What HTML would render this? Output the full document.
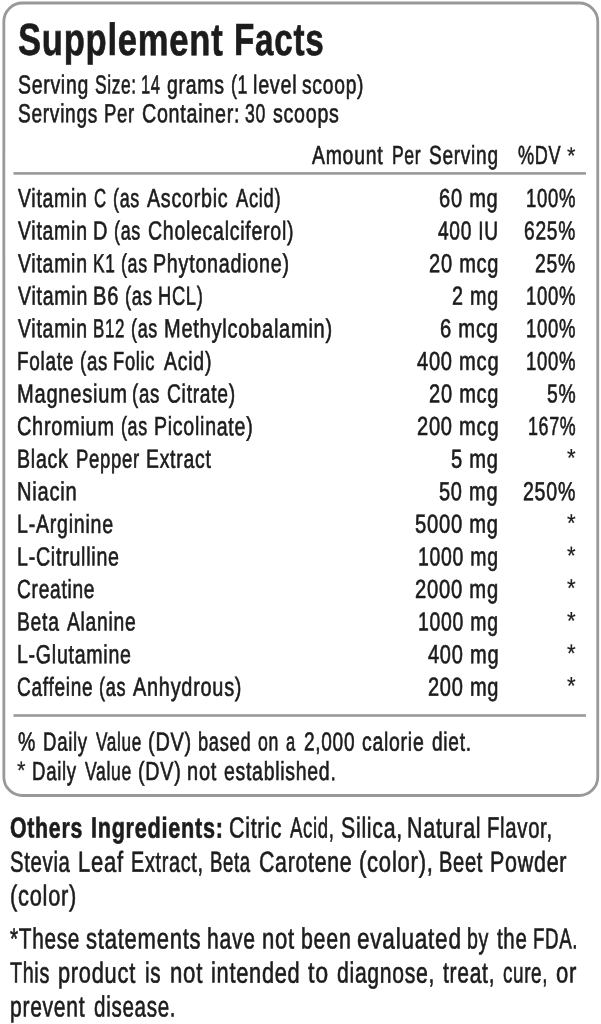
<!DOCTYPE html>
<html lang="en">
<head>
<meta charset="utf-8">
<title>Supplement Facts</title>
<style>
html,body{margin:0;padding:0;background:#fff;}
body{width:601px;height:1024px;position:relative;overflow:hidden;font-family:"Liberation Sans",sans-serif;color:#222;}
.panel{position:absolute;left:0;top:0;width:601px;height:1024px;}
.t,.b{position:absolute;white-space:pre;line-height:1;transform-origin:0 0;letter-spacing:1px;color:#1c1c1c;-webkit-text-stroke:0.65px #1c1c1c;}
.t{font-weight:400;}
.b{font-weight:700;}
h1,p,section,div{margin:0;padding:0;}
.ns{-webkit-text-stroke-width:0.2px;}
svg{position:absolute;left:0;top:0;}
</style>
</head>
<body>
<svg width="601" height="1024" viewBox="0 0 601 1024">
<rect x="3.85" y="3" width="593.9" height="792.5" rx="18.5" ry="18.5" fill="none" stroke="#999" stroke-width="2.8"/>
<rect x="13.5" y="172.1" width="572.5" height="2.6" fill="#999"/>
<rect x="13.5" y="714.2" width="572.5" height="2.6" fill="#999"/>
</svg>
<div class="panel">
<section class="facts">
<h1 class="title">
<span class="b" style="left:18.23px;top:17px;font-size:45.1px;transform:translateY(0.00px) scaleX(0.7669) rotate(0.05deg)">Supplement</span>
<span class="b" style="left:233.78px;top:17px;font-size:45.1px;transform:translateY(0.00px) scaleX(0.7362) rotate(0.05deg)">Facts</span>
</h1>
<p class="serving">
<span class="t" style="left:17.74px;top:71px;font-size:26.2px;transform:translateY(0.50px) scaleX(0.7409) rotate(0.05deg)">Serving</span>
<span class="t" style="left:95.01px;top:71px;font-size:26.2px;transform:translateY(0.50px) scaleX(0.6621) rotate(0.05deg)">Size:</span>
<span class="t" style="left:141.36px;top:71px;font-size:26.2px;transform:translateY(0.50px) scaleX(0.6313) rotate(0.05deg)">14</span>
<span class="t" style="left:166.79px;top:71px;font-size:26.2px;transform:translateY(0.50px) scaleX(0.7437) rotate(0.05deg)">grams</span>
<span class="t" style="left:230.74px;top:71px;font-size:26.2px;transform:translateY(0.50px) scaleX(0.6800) rotate(0.05deg)">(1</span>
<span class="t" style="left:252.87px;top:71px;font-size:26.2px;transform:translateY(0.50px) scaleX(0.7544) rotate(0.05deg)">level</span>
<span class="t" style="left:302.47px;top:71px;font-size:26.2px;transform:translateY(0.50px) scaleX(0.7359) rotate(0.05deg)">scoop)</span>
</p>
<p class="serving">
<span class="t" style="left:17.75px;top:100px;font-size:26.2px;transform:translateY(0.30px) scaleX(0.7288) rotate(0.05deg)">Servings</span>
<span class="t" style="left:104.33px;top:100px;font-size:26.2px;transform:translateY(0.30px) scaleX(0.7056) rotate(0.05deg)">Per</span>
<span class="t" style="left:142.09px;top:100px;font-size:26.2px;transform:translateY(0.30px) scaleX(0.7509) rotate(0.05deg)">Container:</span>
<span class="t" style="left:245.40px;top:100px;font-size:26.2px;transform:translateY(0.30px) scaleX(0.6726) rotate(0.05deg)">30</span>
<span class="t" style="left:272.89px;top:100px;font-size:26.2px;transform:translateY(0.30px) scaleX(0.7485) rotate(0.05deg)">scoops</span>
</p>
<div class="thead"><span class="amt">
<span class="t" style="left:312.39px;top:142px;font-size:26.2px;transform:translateY(0.00px) scaleX(0.7415) rotate(0.05deg)">Amount</span>
<span class="t" style="left:391.61px;top:142px;font-size:26.2px;transform:translateY(0.00px) scaleX(0.6699) rotate(0.05deg)">Per</span>
<span class="t" style="left:428.55px;top:142px;font-size:26.2px;transform:translateY(0.00px) scaleX(0.7278) rotate(0.05deg)">Serving</span>
</span><span class="dv">
<span class="t" style="left:518.45px;top:142px;font-size:26.2px;transform:translateY(0.00px) scaleX(0.6911) rotate(0.05deg)">%DV</span>
<span class="t ns" style="left:567.07px;top:143px;font-size:24px;transform:translateY(0.80px) scaleX(0.9029) rotate(0.05deg)">*</span>
</span></div>
<div class="tbody">
<div class="tr"><span class="name">
<span class="t" style="left:17.89px;top:185px;font-size:26.2px;transform:translateY(0.00px) scaleX(0.7423) rotate(0.05deg)">Vitamin</span>
<span class="t" style="left:93.80px;top:185px;font-size:26.2px;transform:translateY(0.00px) scaleX(0.6373) rotate(0.05deg)">C</span>
<span class="t" style="left:112.96px;top:185px;font-size:26.2px;transform:translateY(0.00px) scaleX(0.6840) rotate(0.05deg)">(as</span>
<span class="t" style="left:147.04px;top:185px;font-size:26.2px;transform:translateY(0.00px) scaleX(0.7505) rotate(0.05deg)">Ascorbic</span>
<span class="t" style="left:236.03px;top:185px;font-size:26.2px;transform:translateY(0.00px) scaleX(0.6999) rotate(0.05deg)">Acid)</span>
</span><span class="amt">
<span class="t" style="left:439.23px;top:185px;font-size:26.2px;transform:translateY(0.00px) scaleX(0.7651) rotate(0.05deg)">60 mg</span>
</span><span class="dv">
<span class="t" style="left:526.06px;top:185px;font-size:26.2px;transform:translateY(0.00px) scaleX(0.7067) rotate(0.05deg)">100%</span>
</span></div>
<div class="tr"><span class="name">
<span class="t" style="left:17.89px;top:217px;font-size:26.2px;transform:translateY(0.58px) scaleX(0.7428) rotate(0.05deg)">Vitamin</span>
<span class="t" style="left:93.12px;top:217px;font-size:26.2px;transform:translateY(0.58px) scaleX(0.7625) rotate(0.05deg)">D</span>
<span class="t" style="left:114.07px;top:217px;font-size:26.2px;transform:translateY(0.58px) scaleX(0.6844) rotate(0.05deg)">(as</span>
<span class="t" style="left:147.56px;top:217px;font-size:26.2px;transform:translateY(0.58px) scaleX(0.7441) rotate(0.05deg)">Cholecalciferol)</span>
</span><span class="amt">
<span class="t" style="left:438.12px;top:217px;font-size:26.2px;transform:translateY(0.58px) scaleX(0.7315) rotate(0.05deg)">400 IU</span>
</span><span class="dv">
<span class="t" style="left:524.27px;top:217px;font-size:26.2px;transform:translateY(0.58px) scaleX(0.7326) rotate(0.05deg)">625%</span>
</span></div>
<div class="tr"><span class="name">
<span class="t" style="left:17.89px;top:250px;font-size:26.2px;transform:translateY(0.16px) scaleX(0.7430) rotate(0.05deg)">Vitamin</span>
<span class="t" style="left:93.01px;top:250px;font-size:26.2px;transform:translateY(0.16px) scaleX(0.6608) rotate(0.05deg)">K1</span>
<span class="t" style="left:120.72px;top:250px;font-size:26.2px;transform:translateY(0.16px) scaleX(0.6819) rotate(0.05deg)">(as</span>
<span class="t" style="left:153.05px;top:250px;font-size:26.2px;transform:translateY(0.16px) scaleX(0.7518) rotate(0.05deg)">Phytonadione)</span>
</span><span class="amt">
<span class="t" style="left:428.54px;top:250px;font-size:26.2px;transform:translateY(0.16px) scaleX(0.7650) rotate(0.05deg)">20 mcg</span>
</span><span class="dv">
<span class="t" style="left:535.26px;top:250px;font-size:26.2px;transform:translateY(0.16px) scaleX(0.7393) rotate(0.05deg)">25%</span>
</span></div>
<div class="tr"><span class="name">
<span class="t" style="left:17.89px;top:282px;font-size:26.2px;transform:translateY(0.74px) scaleX(0.7461) rotate(0.05deg)">Vitamin</span>
<span class="t" style="left:93.05px;top:282px;font-size:26.2px;transform:translateY(0.74px) scaleX(0.7668) rotate(0.05deg)">B6</span>
<span class="t" style="left:124.66px;top:282px;font-size:26.2px;transform:translateY(0.74px) scaleX(0.7040) rotate(0.05deg)">(as</span>
<span class="t" style="left:157.82px;top:282px;font-size:26.2px;transform:translateY(0.74px) scaleX(0.6993) rotate(0.05deg)">HCL)</span>
</span><span class="amt">
<span class="t" style="left:451.95px;top:282px;font-size:26.2px;transform:translateY(0.74px) scaleX(0.7540) rotate(0.05deg)">2 mg</span>
</span><span class="dv">
<span class="t" style="left:526.06px;top:282px;font-size:26.2px;transform:translateY(0.74px) scaleX(0.7067) rotate(0.05deg)">100%</span>
</span></div>
<div class="tr"><span class="name">
<span class="t" style="left:17.89px;top:315px;font-size:26.2px;transform:translateY(0.32px) scaleX(0.7429) rotate(0.05deg)">Vitamin</span>
<span class="t" style="left:93.00px;top:315px;font-size:26.2px;transform:translateY(0.32px) scaleX(0.6478) rotate(0.05deg)">B12</span>
<span class="t" style="left:130.66px;top:315px;font-size:26.2px;transform:translateY(0.32px) scaleX(0.6845) rotate(0.05deg)">(as</span>
<span class="t" style="left:163.57px;top:315px;font-size:26.2px;transform:translateY(0.32px) scaleX(0.7636) rotate(0.05deg)">Methylcobalamin)</span>
</span><span class="amt">
<span class="t" style="left:439.93px;top:315px;font-size:26.2px;transform:translateY(0.32px) scaleX(0.7712) rotate(0.05deg)">6 mcg</span>
</span><span class="dv">
<span class="t" style="left:526.06px;top:315px;font-size:26.2px;transform:translateY(0.32px) scaleX(0.7067) rotate(0.05deg)">100%</span>
</span></div>
<div class="tr"><span class="name">
<span class="t" style="left:17.03px;top:347px;font-size:26.2px;transform:translateY(0.90px) scaleX(0.7239) rotate(0.05deg)">Folate</span>
<span class="t" style="left:79.64px;top:347px;font-size:26.2px;transform:translateY(0.90px) scaleX(0.7132) rotate(0.05deg)">(as</span>
<span class="t" style="left:113.34px;top:347px;font-size:26.2px;transform:translateY(0.90px) scaleX(0.7005) rotate(0.05deg)">Folic</span>
<span class="t" style="left:163.65px;top:347px;font-size:26.2px;transform:translateY(0.90px) scaleX(0.7445) rotate(0.05deg)">Acid)</span>
</span><span class="amt">
<span class="t" style="left:416.51px;top:347px;font-size:26.2px;transform:translateY(0.90px) scaleX(0.7666) rotate(0.05deg)">400 mcg</span>
</span><span class="dv">
<span class="t" style="left:526.06px;top:347px;font-size:26.2px;transform:translateY(0.90px) scaleX(0.7067) rotate(0.05deg)">100%</span>
</span></div>
<div class="tr"><span class="name">
<span class="t" style="left:16.96px;top:380px;font-size:26.2px;transform:translateY(0.48px) scaleX(0.7665) rotate(0.05deg)">Magnesium</span>
<span class="t" style="left:132.48px;top:380px;font-size:26.2px;transform:translateY(0.48px) scaleX(0.7123) rotate(0.05deg)">(as</span>
<span class="t" style="left:166.57px;top:380px;font-size:26.2px;transform:translateY(0.48px) scaleX(0.7348) rotate(0.05deg)">Citrate)</span>
</span><span class="amt">
<span class="t" style="left:428.54px;top:380px;font-size:26.2px;transform:translateY(0.48px) scaleX(0.7650) rotate(0.05deg)">20 mcg</span>
</span><span class="dv">
<span class="t" style="left:546.75px;top:380px;font-size:26.2px;transform:translateY(0.48px) scaleX(0.7387) rotate(0.05deg)">5%</span>
</span></div>
<div class="tr"><span class="name">
<span class="t" style="left:17.24px;top:413px;font-size:26.2px;transform:translateY(0.06px) scaleX(0.7593) rotate(0.05deg)">Chromium</span>
<span class="t" style="left:120.95px;top:413px;font-size:26.2px;transform:translateY(0.06px) scaleX(0.6822) rotate(0.05deg)">(as</span>
<span class="t" style="left:154.49px;top:413px;font-size:26.2px;transform:translateY(0.06px) scaleX(0.7458) rotate(0.05deg)">Picolinate)</span>
</span><span class="amt">
<span class="t" style="left:416.53px;top:413px;font-size:26.2px;transform:translateY(0.06px) scaleX(0.7663) rotate(0.05deg)">200 mcg</span>
</span><span class="dv">
<span class="t" style="left:527.81px;top:413px;font-size:26.2px;transform:translateY(0.06px) scaleX(0.6815) rotate(0.05deg)">167%</span>
</span></div>
<div class="tr"><span class="name">
<span class="t" style="left:16.99px;top:445px;font-size:26.2px;transform:translateY(0.64px) scaleX(0.7476) rotate(0.05deg)">Black</span>
<span class="t" style="left:75.81px;top:445px;font-size:26.2px;transform:translateY(0.64px) scaleX(0.7074) rotate(0.05deg)">Pepper</span>
<span class="t" style="left:146.30px;top:445px;font-size:26.2px;transform:translateY(0.64px) scaleX(0.7405) rotate(0.05deg)">Extract</span>
</span><span class="amt">
<span class="t" style="left:451.12px;top:445px;font-size:26.2px;transform:translateY(0.64px) scaleX(0.7678) rotate(0.05deg)">5 mg</span>
</span><span class="dv">
<span class="t ns" style="left:567.18px;top:445px;font-size:25px;transform:translateY(0.24px) scaleX(0.8865) rotate(0.05deg)">*</span>
</span></div>
<div class="tr"><span class="name">
<span class="t" style="left:16.96px;top:478px;font-size:26.2px;transform:translateY(0.22px) scaleX(0.7666) rotate(0.05deg)">Niacin</span>
</span><span class="amt">
<span class="t" style="left:439.43px;top:478px;font-size:26.2px;transform:translateY(0.22px) scaleX(0.7625) rotate(0.05deg)">50 mg</span>
</span><span class="dv">
<span class="t" style="left:523.25px;top:478px;font-size:26.2px;transform:translateY(0.22px) scaleX(0.7473) rotate(0.05deg)">250%</span>
</span></div>
<div class="tr"><span class="name">
<span class="t" style="left:16.99px;top:510px;font-size:26.2px;transform:translateY(0.80px) scaleX(0.7483) rotate(0.05deg)">L-Arginine</span>
</span><span class="amt">
<span class="t" style="left:415.12px;top:510px;font-size:26.2px;transform:translateY(0.80px) scaleX(0.7688) rotate(0.05deg)">5000 mg</span>
</span><span class="dv">
<span class="t ns" style="left:567.18px;top:510px;font-size:25px;transform:translateY(0.40px) scaleX(0.8865) rotate(0.05deg)">*</span>
</span></div>
<div class="tr"><span class="name">
<span class="t" style="left:16.99px;top:543px;font-size:26.2px;transform:translateY(0.38px) scaleX(0.7491) rotate(0.05deg)">L-Citrulline</span>
</span><span class="amt">
<span class="t" style="left:418.00px;top:543px;font-size:26.2px;transform:translateY(0.38px) scaleX(0.7418) rotate(0.05deg)">1000 mg</span>
</span><span class="dv">
<span class="t ns" style="left:567.18px;top:542px;font-size:25px;transform:translateY(0.98px) scaleX(0.8865) rotate(0.05deg)">*</span>
</span></div>
<div class="tr"><span class="name">
<span class="t" style="left:17.27px;top:575px;font-size:26.2px;transform:translateY(0.96px) scaleX(0.7309) rotate(0.05deg)">Creatine</span>
</span><span class="amt">
<span class="t" style="left:414.93px;top:575px;font-size:26.2px;transform:translateY(0.96px) scaleX(0.7706) rotate(0.05deg)">2000 mg</span>
</span><span class="dv">
<span class="t ns" style="left:567.18px;top:575px;font-size:25px;transform:translateY(0.56px) scaleX(0.8865) rotate(0.05deg)">*</span>
</span></div>
<div class="tr"><span class="name">
<span class="t" style="left:17.01px;top:608px;font-size:26.2px;transform:translateY(0.54px) scaleX(0.7369) rotate(0.05deg)">Beta</span>
<span class="t" style="left:66.88px;top:608px;font-size:26.2px;transform:translateY(0.54px) scaleX(0.7353) rotate(0.05deg)">Alanine</span>
</span><span class="amt">
<span class="t" style="left:418.00px;top:608px;font-size:26.2px;transform:translateY(0.54px) scaleX(0.7418) rotate(0.05deg)">1000 mg</span>
</span><span class="dv">
<span class="t ns" style="left:567.18px;top:608px;font-size:25px;transform:translateY(0.14px) scaleX(0.8865) rotate(0.05deg)">*</span>
</span></div>
<div class="tr"><span class="name">
<span class="t" style="left:16.99px;top:641px;font-size:26.2px;transform:translateY(0.12px) scaleX(0.7467) rotate(0.05deg)">L-Glutamine</span>
</span><span class="amt">
<span class="t" style="left:427.51px;top:641px;font-size:26.2px;transform:translateY(0.12px) scaleX(0.7636) rotate(0.05deg)">400 mg</span>
</span><span class="dv">
<span class="t ns" style="left:567.18px;top:640px;font-size:25px;transform:translateY(0.72px) scaleX(0.8865) rotate(0.05deg)">*</span>
</span></div>
<div class="tr"><span class="name">
<span class="t" style="left:17.27px;top:673px;font-size:26.2px;transform:translateY(0.70px) scaleX(0.7257) rotate(0.05deg)">Caffeine</span>
<span class="t" style="left:99.24px;top:673px;font-size:26.2px;transform:translateY(0.70px) scaleX(0.6904) rotate(0.05deg)">(as</span>
<span class="t" style="left:133.39px;top:673px;font-size:26.2px;transform:translateY(0.70px) scaleX(0.7591) rotate(0.05deg)">Anhydrous)</span>
</span><span class="amt">
<span class="t" style="left:427.54px;top:673px;font-size:26.2px;transform:translateY(0.70px) scaleX(0.7633) rotate(0.05deg)">200 mg</span>
</span><span class="dv">
<span class="t ns" style="left:567.18px;top:673px;font-size:25px;transform:translateY(0.30px) scaleX(0.8865) rotate(0.05deg)">*</span>
</span></div>
</div>
<p class="note">
<span class="t" style="left:17.93px;top:728px;font-size:26.2px;transform:translateY(0.60px) scaleX(0.7434) rotate(0.05deg)">%</span>
<span class="t" style="left:42.60px;top:728px;font-size:26.2px;transform:translateY(0.60px) scaleX(0.7102) rotate(0.05deg)">Daily</span>
<span class="t" style="left:95.59px;top:728px;font-size:26.2px;transform:translateY(0.60px) scaleX(0.6546) rotate(0.05deg)">Value</span>
<span class="t" style="left:148.04px;top:728px;font-size:26.2px;transform:translateY(0.60px) scaleX(0.7604) rotate(0.05deg)">(DV)</span>
<span class="t" style="left:197.85px;top:728px;font-size:26.2px;transform:translateY(0.60px) scaleX(0.6985) rotate(0.05deg)">based</span>
<span class="t" style="left:258.43px;top:728px;font-size:26.2px;transform:translateY(0.60px) scaleX(0.6762) rotate(0.05deg)">on</span>
<span class="t" style="left:286.24px;top:728px;font-size:26.2px;transform:translateY(0.60px) scaleX(0.6293) rotate(0.05deg)">a</span>
<span class="t" style="left:303.96px;top:728px;font-size:26.2px;transform:translateY(0.60px) scaleX(0.7266) rotate(0.05deg)">2,000</span>
<span class="t" style="left:362.47px;top:728px;font-size:26.2px;transform:translateY(0.60px) scaleX(0.7421) rotate(0.05deg)">calorie</span>
<span class="t" style="left:432.09px;top:728px;font-size:26.2px;transform:translateY(0.60px) scaleX(0.7284) rotate(0.05deg)">diet.</span>
</p>
<p class="note">
<span class="t ns" style="left:17.28px;top:757px;font-size:25px;transform:translateY(0.80px) scaleX(0.8757) rotate(0.05deg)">*</span>
<span class="t" style="left:32.06px;top:758px;font-size:26.2px;transform:translateY(0.00px) scaleX(0.7103) rotate(0.05deg)">Daily</span>
<span class="t" style="left:84.65px;top:758px;font-size:26.2px;transform:translateY(0.00px) scaleX(0.6693) rotate(0.05deg)">Value</span>
<span class="t" style="left:137.78px;top:758px;font-size:26.2px;transform:translateY(0.00px) scaleX(0.7531) rotate(0.05deg)">(DV)</span>
<span class="t" style="left:186.94px;top:758px;font-size:26.2px;transform:translateY(0.00px) scaleX(0.7640) rotate(0.05deg)">not</span>
<span class="t" style="left:224.47px;top:758px;font-size:26.2px;transform:translateY(0.00px) scaleX(0.7417) rotate(0.05deg)">established.</span>
</p>
</section>
<p class="others"><b>
<span class="b" style="left:9.87px;top:813px;font-size:29.0px;transform:translateY(0.60px) scaleX(0.7347) rotate(0.05deg)">Others</span>
<span class="b" style="left:91.38px;top:813px;font-size:29.0px;transform:translateY(0.60px) scaleX(0.7451) rotate(0.05deg)">Ingredients:</span>
</b>
<span class="t" style="left:228.98px;top:813px;font-size:29.0px;transform:translateY(0.60px) scaleX(0.7383) rotate(0.05deg)">Citric</span>
<span class="t" style="left:290.33px;top:813px;font-size:29.0px;transform:translateY(0.60px) scaleX(0.6407) rotate(0.05deg)">Acid,</span>
<span class="t" style="left:340.77px;top:813px;font-size:29.0px;transform:translateY(0.60px) scaleX(0.7339) rotate(0.05deg)">Silica,</span>
<span class="t" style="left:407.41px;top:813px;font-size:29.0px;transform:translateY(0.60px) scaleX(0.7397) rotate(0.05deg)">Natural</span>
<span class="t" style="left:487.39px;top:813px;font-size:29.0px;transform:translateY(0.60px) scaleX(0.6999) rotate(0.05deg)">Flavor,</span>
<span class="t" style="left:9.90px;top:847px;font-size:29.0px;transform:translateY(0.70px) scaleX(0.6998) rotate(0.05deg)">Stevia</span>
<span class="t" style="left:78.29px;top:847px;font-size:29.0px;transform:translateY(0.70px) scaleX(0.7570) rotate(0.05deg)">Leaf</span>
<span class="t" style="left:131.47px;top:847px;font-size:29.0px;transform:translateY(0.70px) scaleX(0.6838) rotate(0.05deg)">Extract,</span>
<span class="t" style="left:210.02px;top:847px;font-size:29.0px;transform:translateY(0.70px) scaleX(0.6414) rotate(0.05deg)">Beta</span>
<span class="t" style="left:259.11px;top:847px;font-size:29.0px;transform:translateY(0.70px) scaleX(0.7332) rotate(0.05deg)">Carotene</span>
<span class="t" style="left:359.44px;top:847px;font-size:29.0px;transform:translateY(0.70px) scaleX(0.7604) rotate(0.05deg)">(color),</span>
<span class="t" style="left:438.93px;top:847px;font-size:29.0px;transform:translateY(0.70px) scaleX(0.6917) rotate(0.05deg)">Beet</span>
<span class="t" style="left:490.17px;top:847px;font-size:29.0px;transform:translateY(0.70px) scaleX(0.7403) rotate(0.05deg)">Powder</span>
<span class="t" style="left:10.17px;top:881px;font-size:29.0px;transform:translateY(0.40px) scaleX(0.7519) rotate(0.05deg)">(color)</span>
</p>
<p class="disclaimer">
<span class="t" style="left:9.90px;top:924px;font-size:29.1px;transform:translateY(0.40px) scaleX(0.7137) rotate(0.05deg)">*These</span>
<span class="t" style="left:86.17px;top:924px;font-size:29.1px;transform:translateY(0.40px) scaleX(0.7573) rotate(0.05deg)">statements</span>
<span class="t" style="left:207.02px;top:924px;font-size:29.1px;transform:translateY(0.40px) scaleX(0.7260) rotate(0.05deg)">have</span>
<span class="t" style="left:261.92px;top:924px;font-size:29.1px;transform:translateY(0.40px) scaleX(0.7594) rotate(0.05deg)">not</span>
<span class="t" style="left:301.32px;top:924px;font-size:29.1px;transform:translateY(0.40px) scaleX(0.7352) rotate(0.05deg)">been</span>
<span class="t" style="left:357.37px;top:924px;font-size:29.1px;transform:translateY(0.40px) scaleX(0.7750) rotate(0.05deg)">evaluated</span>
<span class="t" style="left:467.36px;top:924px;font-size:29.1px;transform:translateY(0.40px) scaleX(0.6750) rotate(0.05deg)">by</span>
<span class="t" style="left:496.67px;top:924px;font-size:29.1px;transform:translateY(0.40px) scaleX(0.7018) rotate(0.05deg)">the</span>
<span class="t" style="left:533.32px;top:924px;font-size:29.1px;transform:translateY(0.40px) scaleX(0.6434) rotate(0.05deg)">FDA.</span>
<span class="t" style="left:10.23px;top:958px;font-size:29.1px;transform:translateY(0.60px) scaleX(0.6776) rotate(0.05deg)">This</span>
<span class="t" style="left:58.32px;top:958px;font-size:29.1px;transform:translateY(0.60px) scaleX(0.7494) rotate(0.05deg)">product</span>
<span class="t" style="left:145.49px;top:958px;font-size:29.1px;transform:translateY(0.60px) scaleX(0.7093) rotate(0.05deg)">is</span>
<span class="t" style="left:169.64px;top:958px;font-size:29.1px;transform:translateY(0.60px) scaleX(0.7615) rotate(0.05deg)">not</span>
<span class="t" style="left:210.86px;top:958px;font-size:29.1px;transform:translateY(0.60px) scaleX(0.7477) rotate(0.05deg)">intended</span>
<span class="t" style="left:308.28px;top:958px;font-size:29.1px;transform:translateY(0.60px) scaleX(0.7964) rotate(0.05deg)">to</span>
<span class="t" style="left:337.16px;top:958px;font-size:29.1px;transform:translateY(0.60px) scaleX(0.7264) rotate(0.05deg)">diagnose,</span>
<span class="t" style="left:442.55px;top:958px;font-size:29.1px;transform:translateY(0.60px) scaleX(0.7222) rotate(0.05deg)">treat,</span>
<span class="t" style="left:502.63px;top:958px;font-size:29.1px;transform:translateY(0.60px) scaleX(0.6477) rotate(0.05deg)">cure,</span>
<span class="t" style="left:555.73px;top:958px;font-size:29.1px;transform:translateY(0.60px) scaleX(0.7578) rotate(0.05deg)">or</span>
<span class="t" style="left:10.21px;top:992px;font-size:29.1px;transform:translateY(0.40px) scaleX(0.7243) rotate(0.05deg)">prevent</span>
<span class="t" style="left:94.29px;top:992px;font-size:29.1px;transform:translateY(0.40px) scaleX(0.7071) rotate(0.05deg)">disease.</span>
</p>
</div>
</body>
</html>
